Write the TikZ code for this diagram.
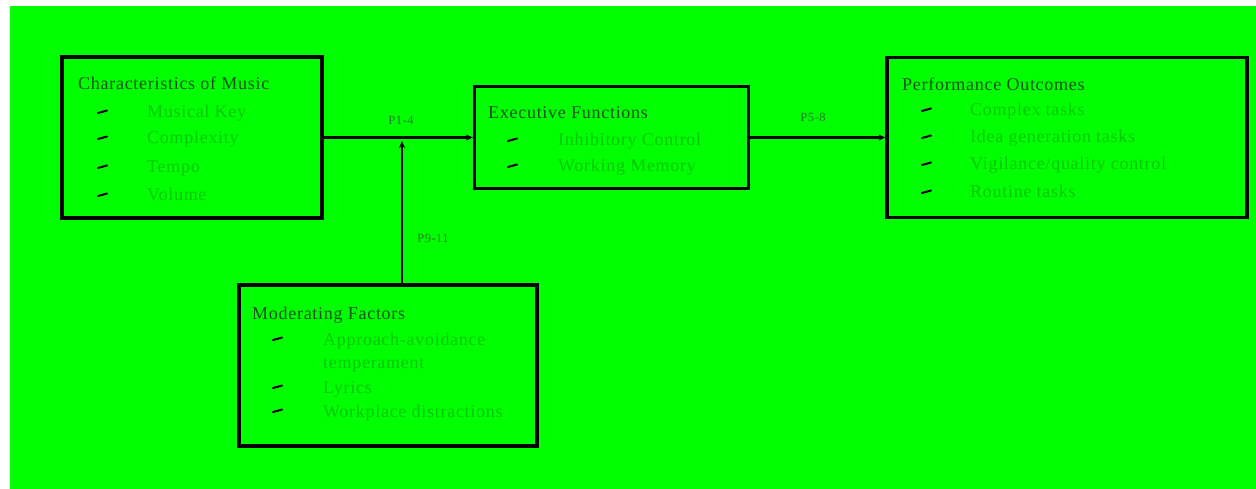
\documentclass[tikz,border=0pt]{standalone}
\usepackage{fontspec}
\setmainfont{Liberation Serif}[LetterSpace=4.0]
\usetikzlibrary{arrows.meta}
\definecolor{bg}{RGB}{0,255,0}
\definecolor{hd}{RGB}{25,80,25}
\definecolor{it}{RGB}{0,200,0}
\definecolor{lb}{RGB}{40,120,40}
\begin{document}
\begin{tikzpicture}[x=1pt,y=-1pt,
  box/.style={draw=black,line width=3.2pt,rectangle,inner sep=0pt},
  hdr/.style={anchor=base west,text=hd,font=\fontsize{18}{20}\selectfont,inner sep=0pt},
  itm/.style={anchor=base west,text=it,font=\fontsize{18}{20}\selectfont,inner sep=0pt},
  lab/.style={text=lb,font=\fontsize{12.5}{14}\selectfont,inner sep=0pt},
  conn/.style={line width=2.4pt,-{Stealth[length=7pt,width=6pt]}},
  bul/.style={line width=2pt,line cap=round}]
\useasboundingbox (0,0) rectangle (1256,489);
\fill[white] (0,0) rectangle (1256,489);
\fill[bg] (10,6) rectangle (1256,489);
% boxes
\node[box,minimum width=260pt,minimum height=161pt] (cm) at (192,137.5) {};
\node[box,minimum width=274pt,minimum height=102pt] (ef) at (611.5,137.5) {};
\node[box,minimum width=360pt,minimum height=160pt] (po) at (1067,137.5) {};
\node[box,minimum width=298pt,minimum height=161pt] (mf) at (388,365.5) {};
% box 1
\node[hdr] (cmh) at (78,90) {Characteristics of Music};
\node[itm] (cm1) at (147,118) {Musical Key};
\node[itm] (cm2) at (147,144) {Complexity};
\node[itm] (cm3) at (147,173) {Tempo};
\node[itm] (cm4) at (147,201) {Volume};
\foreach \y in {112,138,167,195} \draw[bul] (98,\y+1) -- (107,\y-1.5);
% box 2
\node[hdr] (efh) at (488,119) {Executive Functions};
\node[itm] (ef1) at (558,146) {Inhibitory Control};
\node[itm] (ef2) at (558,172) {Working Memory};
\foreach \y in {140,166} \draw[bul] (508,\y+1) -- (517,\y-1.5);
% box 3
\node[hdr] (poh) at (902,91) {Performance Outcomes};
\node[itm] (po1) at (970,116) {Complex tasks};
\node[itm] (po2) at (970,143) {Idea generation tasks};
\node[itm] (po3) at (970,170) {Vigilance/quality control};
\node[itm] (po4) at (970,198) {Routine tasks};
\foreach \y in {110,137,164,192} \draw[bul] (922,\y+1) -- (931,\y-1.5);
% box 4
\node[hdr] (mfh) at (252,319) {Moderating Factors};
\node[itm] (mf1) at (323,345) {Approach-avoidance};
\node[itm] (mf1b) at (323,368) {temperament};
\node[itm] (mf2) at (323,393) {Lyrics};
\node[itm] (mf3) at (323,417) {Workplace distractions};
\foreach \y in {339,387,411} \draw[bul] (273,\y+1) -- (282,\y-1.5);
% connectors
\coordinate (j) at (402,141);
\draw[conn] (cm.east) -- (ef.west);
\draw[conn] (ef.east) -- (po.west);
\draw[conn] (mf.north -| j) -- (j);
% labels
\node[lab] (l1) at (401,120) {P1-4};
\node[lab] (l2) at (813,117) {P5-8};
\node[lab] (l3) at (433,238) {P9-11};
\end{tikzpicture}
\end{document}
